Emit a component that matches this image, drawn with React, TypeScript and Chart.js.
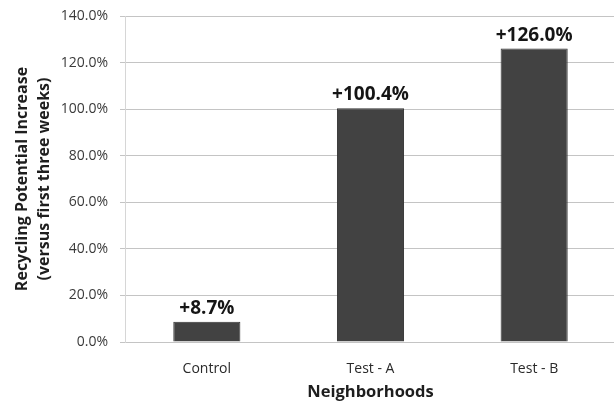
import { useEffect, useRef } from "react";
import { Chart, registerables } from "chart.js";

Chart.register(...registerables);

const neighborhoods = ["Control", "Test - A", "Test - B"];
const increasePct = [8.7, 100.4, 126.0];
const valueLabels = ["+8.7%", "+100.4%", "+126.0%"];
const yTitleLines = ["Recycling Potential Increase", "(versus first three weeks)"];
const xTitle = "Neighborhoods";

const FONT = "'Open Sans', 'DejaVu Sans', sans-serif";

// Draws the bold value labels just above each bar
const valueLabelPlugin = {
  id: "valueLabels",
  afterDatasetsDraw(chart: Chart) {
    const { ctx } = chart;
    const meta = chart.getDatasetMeta(0);
    ctx.save();
    ctx.font = `bold 19px ${FONT}`;
    ctx.fillStyle = "#151515";
    ctx.textAlign = "center";
    ctx.textBaseline = "bottom";
    meta.data.forEach((bar: any, i: number) => {
      ctx.fillText(valueLabels[i], bar.x, bar.y - 4);
    });
    ctx.restore();
  },
};

export default function App() {
  const canvasRef = useRef<HTMLCanvasElement | null>(null);

  useEffect(() => {
    document.body.style.margin = "0";
    document.body.style.overflow = "hidden";
    const canvas = canvasRef.current;
    if (!canvas) return;
    const chart = new Chart(canvas, {
      type: "bar",
      data: {
        labels: neighborhoods,
        datasets: [
          {
            data: increasePct,
            backgroundColor: "#424242",
            borderColor: "#333333",
            borderWidth: 1,
            categoryPercentage: 1,
            barPercentage: 0.41,
          },
        ],
      },
      options: {
        animation: false,
        responsive: false,
        maintainAspectRatio: false,
        layout: { padding: { top: 16, left: 0, right: 0, bottom: 0 } },
        plugins: {
          legend: { display: false },
          tooltip: { enabled: false },
        },
        scales: {
          x: {
            grid: { display: false },
            border: { display: false },
            ticks: {
              color: "#2a2a2a",
              font: { family: FONT, size: 14 },
              padding: 11,
            },
            title: {
              display: true,
              text: xTitle,
              color: "#1e1e1e",
              font: { family: FONT, size: 16.5, weight: "bold" },
              padding: { top: 0, bottom: 2 },
            },
            afterFit: (scale: any) => {
              scale.height = 62;
            },
          },
          y: {
            min: 0,
            max: 140,
            ticks: {
              stepSize: 20,
              color: "#3a3a3a",
              font: { family: FONT, size: 14 },
              padding: 12,
              callback: (v: any) => Number(v).toFixed(1) + "%",
            },
            grid: {
              color: "#c4c4c4",
              lineWidth: 1,
              tickLength: 5,
            },
            border: { display: true, color: "#d6d6d6" },
            title: {
              display: true,
              text: yTitleLines,
              color: "#1e1e1e",
              font: { family: FONT, size: 16, weight: "bold", lineHeight: 1.375 },
              padding: { top: 11, bottom: 0 },
            },
            afterFit: (scale: any) => {
              scale.width = 125;
              scale.paddingTop = 0;
              scale.paddingBottom = 0;
            },
          },
        },
      },
      plugins: [valueLabelPlugin],
    });
    return () => chart.destroy();
  }, []);

  return (
    <div style={{ position: "absolute", left: 0, top: 0, width: 616, height: 404, background: "#ffffff" }}>
      <canvas ref={canvasRef} width={616} height={404} style={{ display: "block" }} />
    </div>
  );
}
